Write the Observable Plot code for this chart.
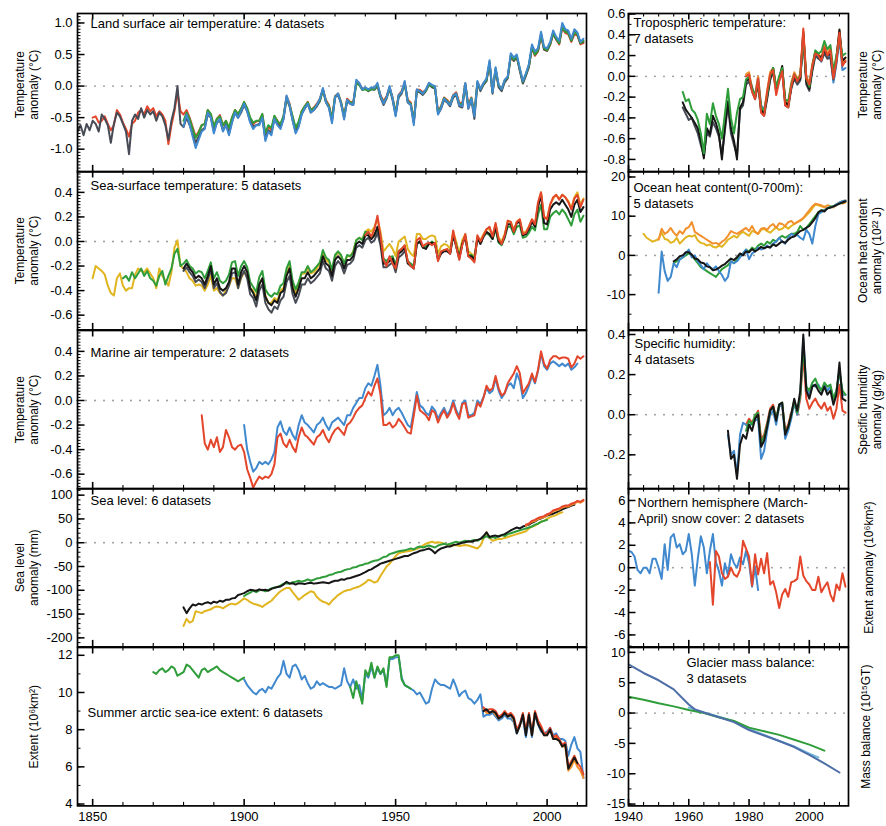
<!DOCTYPE html>
<html><head><meta charset="utf-8">
<script src="https://cdn.jsdelivr.net/npm/d3@7"></script>
<script src="https://cdn.jsdelivr.net/npm/@observablehq/plot@0.6"></script>
<style>
body{margin:0;background:#fff;}
#chart{position:relative;width:886px;height:826px;font-family:"Liberation Sans",Arial,sans-serif;}
#chart svg{position:absolute;overflow:visible;}
</style></head><body><div id="chart"></div>
<script>
// ---------- Land surface air temperature (°C) ----------
const landBlackStart = 1845;
const landBlack = [-0.72,-0.62,-0.78,-0.60,-0.70,
-0.55,-0.60,-0.72,-0.45,-0.52,-0.62,-0.90,-0.60,-0.42,-0.48,
-0.60,-0.72,-1.08,-0.55,-0.45,-0.52,-0.35,-0.50,-0.38,-0.45,
-0.40,-0.55,-0.42,-0.48,-0.62,-0.85,-0.55,-0.35,0.00,-0.60,
-0.65,-0.50,-0.62,-0.75,-0.90,-0.80,-0.70,-0.66,-0.45,-0.50,
-0.72,-0.58,-0.55,-0.70,-0.60,-0.75,-0.56,-0.42,-0.50,-0.42,
-0.30,-0.40,-0.56,-0.64,-0.62,-0.60,-0.50,-0.84,-0.70,-0.74,
-0.52,-0.60,-0.66,-0.52,-0.20,-0.32,-0.54,-0.72,-0.62,-0.44,
-0.36,-0.28,-0.42,-0.38,-0.32,-0.24,-0.06,-0.26,-0.34,-0.56,
-0.18,-0.14,-0.28,-0.50,-0.24,-0.28,-0.30,0.04,0.02,-0.06,
-0.04,-0.08,-0.05,-0.06,0.00,-0.18,-0.30,-0.20,-0.04,-0.22,
-0.46,-0.18,-0.12,0.04,-0.26,-0.30,-0.58,-0.08,-0.10,-0.14,
-0.08,0.02,-0.02,-0.04,-0.44,-0.36,-0.22,-0.26,-0.32,-0.18,
-0.14,-0.32,-0.34,0.02,-0.36,-0.22,-0.52,0.04,-0.08,0.02,
0.08,0.36,-0.12,0.26,-0.02,-0.08,0.06,0.12,0.48,0.40,
0.46,0.24,0.04,0.16,0.30,0.62,0.50,0.56,0.82,0.58,
0.56,0.66,0.84,0.74,0.68,0.96,0.86,0.86,0.72,0.86,
0.82,0.68,0.70];
const landRedStart = 1850;
const landRed = [-0.50,-0.48,-0.58,-0.55,-0.48,-0.60,-0.70,-0.62,-0.38,-0.45,
-0.58,-0.68,-0.80,-0.60,-0.55,-0.42,-0.38,-0.45,-0.32,-0.40,
-0.35,-0.48,-0.40,-0.45,-0.55,-0.92,-0.62,-0.40,-0.10,-0.40,
-0.45,-0.38,-0.50,-0.65,-0.80,-0.72,-0.62,-0.60,-0.38,-0.45,
-0.65,-0.52,-0.46,-0.62,-0.55,-0.68,-0.50,-0.38,-0.45,-0.36,
-0.26,-0.36,-0.52,-0.60,-0.56,-0.55,-0.45,-0.78,-0.64,-0.70,
-0.48,-0.55,-0.62,-0.48,-0.16,-0.28,-0.50,-0.68,-0.58,-0.40,
-0.32,-0.25,-0.38,-0.34,-0.28,-0.20,-0.05,-0.22,-0.30,-0.52,
-0.16,-0.12,-0.25,-0.48,-0.20,-0.25,-0.26,0.06,0.04,-0.04,
-0.04,-0.06,-0.04,-0.04,0.02,-0.14,-0.24,-0.16,-0.02,-0.18,
-0.42,-0.14,-0.08,0.06,-0.22,-0.26,-0.55,-0.06,-0.06,-0.10,
-0.06,0.04,0.00,-0.02,-0.40,-0.32,-0.18,-0.22,-0.28,-0.14,
-0.10,-0.26,-0.28,0.04,-0.30,-0.18,-0.42,0.06,-0.04,0.04,
0.10,0.36,-0.08,0.26,0.00,-0.04,0.08,0.14,0.46,0.40,
0.46,0.26,0.06,0.18,0.32,0.60,0.48,0.55,0.80,0.58,
0.56,0.65,0.82,0.74,0.66,0.92,0.84,0.82,0.70,0.82,
0.80,0.66,0.68];
const landGreenStart = 1880;
const landGreen = [-0.55,-0.42,-0.52,-0.68,-0.82,-0.74,-0.62,-0.60,-0.38,-0.44,
-0.64,-0.52,-0.48,-0.62,-0.55,-0.66,-0.50,-0.38,-0.44,-0.36,
-0.25,-0.35,-0.50,-0.58,-0.55,-0.55,-0.44,-0.74,-0.62,-0.66,
-0.47,-0.56,-0.60,-0.47,-0.18,-0.30,-0.48,-0.66,-0.56,-0.40,
-0.32,-0.26,-0.38,-0.35,-0.30,-0.22,-0.06,-0.24,-0.32,-0.52,
-0.17,-0.12,-0.26,-0.48,-0.22,-0.26,-0.28,0.04,0.02,-0.06,
-0.05,-0.07,-0.05,-0.05,0.02,-0.16,-0.26,-0.18,-0.03,-0.19,
-0.44,-0.15,-0.10,0.05,-0.24,-0.28,-0.56,-0.07,-0.08,-0.12,
-0.07,0.03,0.00,-0.02,-0.42,-0.33,-0.19,-0.24,-0.28,-0.15,
-0.12,-0.28,-0.30,0.03,-0.32,-0.19,-0.44,0.06,-0.05,0.04,
0.10,0.38,-0.09,0.28,0.01,-0.05,0.09,0.14,0.48,0.42,
0.47,0.27,0.07,0.19,0.33,0.62,0.50,0.57,0.82,0.60,
0.57,0.67,0.84,0.75,0.68,0.94,0.86,0.84,0.72,0.85,
0.82,0.68,0.72];
const landBlueStart = 1880;
const landBlue = [-0.64,-0.45,-0.60,-0.80,-0.98,-0.85,-0.72,-0.68,-0.42,-0.50,
-0.75,-0.58,-0.52,-0.72,-0.62,-0.78,-0.58,-0.42,-0.50,-0.40,
-0.28,-0.40,-0.58,-0.68,-0.62,-0.62,-0.50,-0.87,-0.72,-0.78,
-0.52,-0.62,-0.68,-0.52,-0.15,-0.30,-0.55,-0.75,-0.65,-0.45,
-0.35,-0.28,-0.42,-0.38,-0.30,-0.20,-0.03,-0.25,-0.35,-0.59,
-0.18,-0.12,-0.28,-0.53,-0.22,-0.28,-0.30,0.10,0.05,-0.05,
-0.02,-0.05,-0.02,-0.03,0.05,-0.15,-0.28,-0.18,0.00,-0.20,
-0.48,-0.15,-0.10,0.08,-0.25,-0.30,-0.62,-0.05,-0.08,-0.12,
-0.05,0.05,0.02,0.00,-0.45,-0.35,-0.20,-0.25,-0.30,-0.15,
-0.12,-0.30,-0.32,0.05,-0.35,-0.20,-0.48,0.08,-0.05,0.05,
0.12,0.41,-0.10,0.30,0.02,-0.05,0.10,0.15,0.52,0.45,
0.50,0.28,0.08,0.20,0.35,0.66,0.55,0.60,0.86,0.62,
0.60,0.70,0.88,0.78,0.72,1.00,0.90,0.88,0.75,0.90,
0.85,0.70,0.75];

// ---------- Sea-surface temperature (°C) ----------
const sstYellowStart = 1850;
const sstYellow = [-0.30,-0.20,-0.22,-0.24,-0.27,-0.36,-0.42,-0.44,-0.30,-0.26,
-0.36,-0.40,-0.38,-0.38,-0.27,-0.22,-0.24,-0.25,-0.22,-0.26,
-0.30,-0.38,-0.22,-0.28,-0.32,-0.36,-0.25,-0.05,0.01,-0.20,
-0.22,-0.25,-0.30,-0.32,-0.36,-0.35,-0.36,-0.40,-0.35,-0.28,
-0.40,-0.38,-0.42,-0.44,-0.40,-0.36,-0.30,-0.30,-0.38,-0.30,
-0.25,-0.28,-0.38,-0.40,-0.46,-0.35,-0.30,-0.44,-0.50,-0.50,
-0.46,-0.48,-0.40,-0.38,-0.26,-0.20,-0.35,-0.42,-0.34,-0.26,
-0.26,-0.22,-0.26,-0.25,-0.22,-0.18,-0.10,-0.15,-0.17,-0.24,
-0.12,-0.09,-0.12,-0.18,-0.12,-0.12,-0.08,0.01,0.03,0.02,
0.08,0.10,0.08,0.12,0.18,0.08,-0.08,-0.05,-0.02,-0.06,
-0.12,0.00,0.02,0.04,-0.06,-0.10,-0.12,0.06,0.06,0.02,
0.02,0.04,0.05,0.04,-0.10,-0.04,-0.02,-0.03,-0.06,0.08,
0.00,-0.10,0.01,0.06,-0.08,-0.10,-0.12,0.04,0.01,0.06,
0.10,0.10,0.05,0.14,0.03,0.00,0.06,0.16,0.16,0.09,
0.16,0.18,0.07,0.08,0.12,0.18,0.14,0.30,0.40,0.20,
0.19,0.30,0.35,0.38,0.35,0.38,0.36,0.33,0.27,0.36,
0.40,0.30,0.35];
const sstGreenStart = 1860;
const sstGreen = [-0.30,-0.28,-0.32,-0.25,-0.30,-0.26,-0.22,-0.28,-0.24,-0.30,
-0.32,-0.36,-0.28,-0.24,-0.35,-0.28,-0.22,-0.10,-0.06,-0.20,
-0.18,-0.15,-0.20,-0.22,-0.26,-0.24,-0.25,-0.30,-0.24,-0.17,
-0.30,-0.25,-0.32,-0.34,-0.32,-0.27,-0.17,-0.16,-0.28,-0.20,
-0.16,-0.21,-0.33,-0.37,-0.41,-0.29,-0.24,-0.39,-0.43,-0.45,
-0.42,-0.43,-0.36,-0.34,-0.22,-0.16,-0.32,-0.39,-0.33,-0.25,
-0.25,-0.20,-0.25,-0.23,-0.20,-0.17,-0.07,-0.13,-0.15,-0.23,
-0.11,-0.08,-0.11,-0.18,-0.11,-0.12,-0.09,0.01,0.03,0.01,
0.08,0.07,0.03,0.06,0.10,0.00,-0.14,-0.16,-0.13,-0.12,
-0.19,-0.08,-0.06,-0.04,-0.16,-0.18,-0.20,-0.02,0.00,-0.05,
-0.04,-0.02,0.00,-0.02,-0.14,-0.09,-0.07,-0.07,-0.09,0.05,
-0.03,-0.13,-0.02,0.04,-0.11,-0.11,-0.14,0.03,-0.01,0.04,
0.07,0.05,0.02,0.10,-0.01,-0.03,0.03,0.12,0.12,0.06,
0.12,0.13,0.03,0.04,0.07,0.12,0.09,0.22,0.30,0.10,
0.10,0.20,0.23,0.25,0.22,0.26,0.23,0.18,0.13,0.22,
0.26,0.16,0.21];
const sstGrayStart = 1880;
const sstGray = [-0.24,-0.21,-0.25,-0.28,-0.33,-0.31,-0.33,-0.38,-0.31,-0.23,
-0.38,-0.34,-0.41,-0.44,-0.42,-0.36,-0.26,-0.25,-0.38,-0.29,
-0.24,-0.30,-0.43,-0.46,-0.53,-0.40,-0.35,-0.50,-0.55,-0.58,
-0.53,-0.55,-0.48,-0.45,-0.33,-0.28,-0.43,-0.50,-0.44,-0.35,
-0.35,-0.30,-0.34,-0.32,-0.29,-0.26,-0.16,-0.22,-0.24,-0.32,
-0.20,-0.16,-0.19,-0.26,-0.19,-0.18,-0.15,-0.05,-0.03,-0.05,
0.01,0.03,-0.01,0.01,0.07,-0.03,-0.21,-0.21,-0.19,-0.17,
-0.25,-0.13,-0.11,-0.08];
const sstBlackStart = 1880;
const sstBlack = [-0.22,-0.18,-0.22,-0.25,-0.30,-0.28,-0.30,-0.35,-0.28,-0.20,
-0.35,-0.30,-0.38,-0.40,-0.38,-0.33,-0.22,-0.22,-0.35,-0.25,
-0.20,-0.25,-0.38,-0.42,-0.48,-0.35,-0.30,-0.45,-0.50,-0.52,
-0.48,-0.50,-0.42,-0.40,-0.28,-0.22,-0.38,-0.45,-0.38,-0.30,
-0.30,-0.25,-0.30,-0.28,-0.25,-0.22,-0.12,-0.18,-0.20,-0.28,
-0.15,-0.12,-0.15,-0.22,-0.15,-0.15,-0.12,-0.02,0.00,-0.02,
0.05,0.05,0.02,0.05,0.12,0.02,-0.18,-0.18,-0.16,-0.14,
-0.22,-0.10,-0.08,-0.05,-0.18,-0.20,-0.22,-0.02,0.00,-0.05,
-0.06,-0.02,-0.01,-0.02,-0.15,-0.10,-0.08,-0.08,-0.10,0.05,
-0.04,-0.14,-0.02,0.04,-0.12,-0.12,-0.15,0.03,-0.02,0.04,
0.08,0.06,0.02,0.12,0.00,-0.02,0.04,0.14,0.14,0.08,
0.15,0.16,0.05,0.06,0.10,0.16,0.12,0.28,0.38,0.15,
0.14,0.26,0.30,0.32,0.30,0.34,0.30,0.26,0.20,0.30,
0.34,0.24,0.28];
const sstRedStart = 1940;
const sstRed = [0.05,0.08,0.04,0.10,0.21,0.05,-0.15,-0.20,-0.12,-0.18,
-0.22,-0.08,-0.06,-0.03,-0.16,-0.20,-0.22,0.01,0.03,-0.04,
-0.02,-0.01,-0.03,-0.01,-0.16,-0.08,-0.07,-0.06,-0.10,0.09,
-0.04,-0.15,-0.03,0.06,-0.12,-0.14,-0.17,0.05,0.00,0.05,
0.10,0.12,0.04,0.15,0.02,-0.02,0.05,0.17,0.16,0.08,
0.16,0.18,0.06,0.07,0.12,0.18,0.14,0.32,0.40,0.20,
0.18,0.30,0.36,0.38,0.34,0.38,0.36,0.32,0.26,0.35,
0.38,0.28,0.34];

// ---------- Marine air temperature (°C) ----------
const marineRedStart = 1886;
const marineRed = [-0.12,-0.35,-0.40,-0.32,
-0.38,-0.30,-0.42,-0.38,-0.24,-0.30,-0.38,-0.40,-0.37,-0.36,
-0.42,-0.56,-0.63,-0.71,-0.66,-0.62,-0.64,-0.62,-0.63,-0.60,
-0.52,-0.30,-0.27,-0.35,-0.38,-0.32,-0.38,-0.42,-0.30,-0.22,
-0.28,-0.30,-0.33,-0.36,-0.30,-0.28,-0.24,-0.30,-0.34,-0.28,
-0.24,-0.22,-0.25,-0.28,-0.20,-0.18,-0.14,-0.09,-0.06,-0.04,
0.02,0.07,0.04,0.12,0.18,0.05,-0.20,-0.20,-0.18,-0.22,
-0.20,-0.15,-0.18,-0.22,-0.26,-0.27,-0.12,0.04,-0.08,-0.10,
-0.12,-0.16,-0.08,-0.10,-0.18,-0.12,-0.08,-0.14,-0.10,-0.02,
-0.10,-0.15,-0.03,-0.02,-0.14,-0.13,-0.12,-0.02,-0.05,0.02,
0.12,0.08,0.10,0.20,0.10,0.04,0.06,0.14,0.18,0.22,
0.28,0.22,0.06,0.10,0.14,0.22,0.15,0.25,0.40,0.30,
0.26,0.33,0.36,0.36,0.34,0.35,0.35,0.34,0.27,0.30,
0.36,0.34,0.36];
const marineBlueStart = 1900;
const marineBlue = [-0.20,-0.40,-0.50,-0.58,-0.55,-0.50,-0.52,-0.50,-0.52,-0.48,
-0.42,-0.22,-0.17,-0.25,-0.28,-0.22,-0.28,-0.32,-0.20,-0.12,
-0.18,-0.20,-0.23,-0.26,-0.20,-0.18,-0.14,-0.20,-0.24,-0.18,
-0.16,-0.14,-0.17,-0.20,-0.12,-0.12,-0.06,-0.02,0.02,0.02,
0.10,0.14,0.12,0.20,0.29,0.12,-0.12,-0.10,-0.06,-0.12,
-0.08,-0.06,-0.10,-0.15,-0.20,-0.22,-0.08,0.07,-0.04,-0.06,
-0.10,-0.12,-0.05,-0.08,-0.15,-0.10,-0.06,-0.12,-0.08,0.00,
-0.08,-0.13,-0.02,0.00,-0.12,-0.12,-0.10,0.00,-0.03,0.03,
0.10,0.06,0.08,0.18,0.08,0.02,0.06,0.12,0.14,0.10,
0.22,0.16,0.02,0.06,0.12,0.20,0.14,0.24,0.38,0.28,
0.25,0.30,0.32,0.30,0.28,0.30,0.28,0.30,0.25,0.27,0.30];

// ---------- Sea level (mm) ----------
const slBlackStart = 1880;
const slBlack = [-136,-148,-138,-130,-132,-128,-130,-127,-125,-128,
-124,-126,-122,-124,-120,-120,-117,-116,-110,-108,
-106,-102,-99,-100,-101,-98,-100,-99,-101,-97,
-95,-93,-92,-88,-82,-86,-85,-88,-85,-86,
-87,-85,-84,-86,-85,-84,-83,-84,-85,-82,
-80,-80,-77,-78,-75,-74,-72,-70,-68,-65,
-62,-58,-56,-52,-48,-44,-42,-40,-38,-36,
-34,-32,-30,-28,-28,-25,-22,-20,-17,-16,
-14,-12,-16,-22,-16,-12,-10,-8,-8,-5,
-4,-2,0,1,3,2,4,6,8,14,
22,12,14,15,13,16,18,22,26,29,
32,30,34,36,38,42,45,49,51,54,
57,59,61,64,67,70,73,75,78,80];
const slYellowStart = 1880;
const slYellow = [-175,-160,-168,-165,-144,-146,-148,-144,-142,-140,
-136,-134,-135,-138,-134,-130,-128,-130,-127,-122,
-117,-120,-125,-128,-130,-132,-135,-130,-126,-122,
-115,-108,-102,-98,-95,-95,-104,-112,-120,-115,
-110,-106,-102,-104,-114,-120,-124,-126,-130,-122,
-116,-110,-106,-102,-100,-99,-96,-94,-92,-88,
-84,-78,-80,-84,-81,-70,-60,-50,-44,-36,
-28,-22,-20,-19,-18,-17,-15,-13,-10,-6,
-2,0,2,0,1,0,-2,-4,-5,-6,
-5,-7,-6,-5,-6,-8,-10,-12,-6,8,
22,10,4,6,8,8,10,12,14,16,
18,20,22,24,30,34,36,40,44,46,
50,54,56,58,62,64];
const slGreenStart = 1900;
const slGreen = [-112,-108,-105,-101,-104,-100,-99,-102,-99,-96,
-94,-93,-90,-86,-85,-86,-83,-82,-80,-82,
-80,-77,-80,-78,-75,-74,-72,-71,-68,-67,
-64,-62,-61,-58,-56,-55,-52,-51,-48,-47,
-44,-43,-40,-38,-37,-34,-30,-29,-24,-22,
-20,-18,-17,-16,-14,-12,-14,-10,-8,-10,
-8,-6,-8,-10,-6,-4,-2,-4,-2,0,
2,0,2,4,2,4,6,4,8,10,
14,10,12,10,14,16,14,18,20,22,
24,26,28,30,32,34,38,40,44,46,
48];
const slOrangeStart = 1993;
const slOrange = [36,40,44,46,50,52,54,58,62,66,68,70,74,76,76,80,82,86,84,88];
const slRedStart = 1993;
const slRed = [38,40,46,48,52,54,56,60,62,68,70,72,76,78,78,82,84,88,86,90];

// ---------- Summer arctic sea-ice extent (10^6 km²) ----------
const iceGreenStart = 1870;
const iceGreen = [11.1,11.0,11.2,11.3,11.1,11.2,11.4,11.3,10.9,11.0,
11.1,11.5,11.4,11.2,11.0,10.8,11.2,11.3,11.1,11.2,
11.3,11.4,11.2,11.1,11.0,10.9,10.8,10.7,10.6,10.7,
10.8];
const iceGreen2Start = 1935;
const iceGreen2 = [10.3,9.7,10.6,10.0,9.4,11.2,10.9,11.6,10.8,11.4,
11.0,11.3,10.3,11.9,11.9,12.0,12.0,10.7,10.4,10.3,10.2];
const iceBlueStart = 1900;
const iceBlue = [10.7,10.4,10.2,10.0,9.9,10.1,10.2,10.0,10.3,10.2,
10.5,10.8,11.0,11.7,11.0,10.8,11.4,11.5,11.2,10.7,
10.9,10.5,10.2,10.3,10.6,10.4,10.5,10.4,10.3,10.3,
10.2,10.3,10.4,11.3,10.6,10.3,10.7,10.2,10.4,9.6,
11.0,10.8,11.4,10.8,11.3,11.0,11.2,10.4,11.8,11.8,
11.9,11.9,10.8,10.4,10.3,10.2,10.1,9.9,10.0,9.7,
9.4,9.5,10.2,10.7,10.5,10.4,10.4,10.3,10.2,10.7,
10.3,9.8,10.0,10.1,9.7,9.6,9.4,9.6,9.9,8.7,
8.8,8.8,8.9,8.7,8.5,8.6,8.8,8.6,8.6,8.4,
7.8,8.3,8.6,7.6,8.6,7.6,8.8,8.3,7.9,7.8,
7.9,8.1,7.7,7.8,7.5,7.5,7.4,6.6,7.2,7.6,
7.0,6.8,5.4];
const iceBlackStart = 1979;
const iceBlack = [9.0,
9.1,8.9,9.0,8.9,8.6,8.7,8.9,8.7,8.8,8.6,
7.8,8.2,8.8,7.7,8.8,7.7,8.9,8.3,8.0,7.7,
7.7,8.0,7.5,7.5,7.4,7.1,7.2,5.9,6.2,6.5,
6.2];
const iceRedStart = 1979;
const iceRed = [9.2,
9.0,9.1,9.1,9.0,8.7,8.8,9.0,8.8,8.9,8.7,
8.0,8.3,8.9,7.9,8.9,7.8,9.0,8.5,8.2,7.8,
7.8,8.1,7.6,7.7,7.5,7.2,7.3,6.0,6.3,6.6,
6.2,6.0,5.6];
const iceOrangeStart = 1979;
const iceOrange = [9.1,
8.9,8.9,9.0,8.8,8.6,8.7,8.9,8.7,8.8,8.5,
7.9,8.2,8.8,7.8,8.8,7.7,8.9,8.4,8.0,7.7,
7.7,8.0,7.5,7.6,7.4,7.1,7.1,5.8,6.0,6.4,
6.0,5.8,5.4];

// ---------- Tropospheric temperature (°C) ----------
const tropoStart = 1958;
const tropoBlack = [-0.25,-0.32,
-0.36,-0.40,-0.45,-0.50,-0.62,-0.79,-0.50,-0.56,-0.38,-0.45,
-0.55,-0.80,-0.48,-0.24,-0.50,-0.62,-0.80,-0.30,-0.25,-0.05,
-0.02,-0.12,-0.20,-0.05,-0.32,-0.36,-0.20,-0.02,0.08,-0.12,
-0.02,0.10,-0.25,-0.28,-0.10,0.00,-0.05,-0.02,0.42,-0.05,
-0.12,0.08,0.24,0.20,0.18,0.25,0.20,0.22,0.00,0.18,
0.45,0.15,0.18];
const tropoGray = [-0.30,-0.36,
-0.42,-0.40,-0.48,-0.55,-0.66,-0.76,-0.54,-0.58,-0.44,-0.50,
-0.58,-0.76,-0.52,-0.28,-0.55,-0.66,-0.76,-0.32,-0.28,-0.08,
-0.05,-0.14,-0.22,-0.08,-0.34,-0.38,-0.22,-0.04,0.05,-0.14,
-0.04,0.06,-0.28,-0.30,-0.12,-0.02,-0.08,-0.04,0.38,-0.08,
-0.14,0.05,0.20,0.17,0.15,0.22,0.17,0.18,-0.03,0.14,
0.40,0.12,0.14];
const tropoGreen = [-0.15,-0.24,
-0.22,-0.32,-0.35,-0.42,-0.55,-0.74,-0.36,-0.46,-0.26,-0.38,
-0.46,-0.60,-0.36,-0.12,-0.40,-0.55,-0.35,-0.22,-0.20,-0.03,
0.00,-0.12,-0.18,-0.05,-0.30,-0.33,-0.18,0.00,0.08,-0.10,
0.00,0.08,-0.22,-0.24,-0.08,0.02,-0.03,0.00,0.38,-0.02,
-0.10,0.10,0.25,0.22,0.24,0.34,0.26,0.30,0.05,0.20,
0.38,0.20,0.22];
const tropoSatStart = 1979;
const tropoRed = [0.00,
0.02,-0.15,-0.22,-0.02,-0.35,-0.38,-0.15,0.02,0.06,-0.18,
-0.05,0.05,-0.28,-0.30,-0.10,0.02,-0.05,0.00,0.46,-0.02,
-0.08,0.10,0.22,0.20,0.15,0.28,0.20,0.25,-0.02,0.15,
0.42,0.10,0.15];
const tropoBlue = [-0.05,
0.00,-0.10,-0.20,0.00,-0.28,-0.32,-0.18,0.00,0.04,-0.14,
-0.02,0.06,-0.24,-0.26,-0.12,0.00,-0.06,-0.02,0.40,-0.04,
-0.10,0.06,0.20,0.18,0.14,0.24,0.18,0.20,-0.06,0.12,
0.36,0.06,0.08];
const tropoOrange = [0.02,
0.04,-0.12,-0.18,0.00,-0.30,-0.34,-0.14,0.04,0.08,-0.14,
-0.02,0.08,-0.24,-0.26,-0.06,0.04,-0.02,0.02,0.44,0.00,
-0.06,0.12,0.24,0.22,0.18,0.30,0.22,0.27,0.00,0.17,
0.44,0.12,0.18];

// ---------- Ocean heat content 0-700 m (10^22 J) ----------
const ohcYellowStart = 1945;
const ohcYellow = [5.5,4.5,4.0,3.5,3.8,
4.2,5.8,4.2,4.0,3.2,3.5,4.5,3.0,3.8,4.6,
5.0,4.8,5.2,3.8,3.2,3.0,2.5,2.8,2.2,2.0,
2.5,2.2,3.0,4.0,4.5,5.0,4.5,5.5,6.0,5.5,
5.0,6.2,6.0,5.5,6.5,6.8,6.2,5.8,6.5,7.2,
6.5,6.8,7.5,6.8,7.5,8.0,8.5,8.8,9.5,10.2,
11.0,12.0,13.0,12.8,12.5,12.5,12.0,12.2,12.5,13.0,
13.5,13.8,14.0];
const ohcRedStart = 1950;
const ohcRed = [4.0,6.8,5.5,6.0,7.0,5.8,5.0,6.2,5.5,6.8,
7.2,8.5,6.0,5.5,5.0,4.5,4.0,3.5,3.0,3.2,
2.8,3.5,4.0,5.0,6.2,5.8,5.5,6.0,6.5,7.0,
6.2,7.5,6.0,5.5,6.8,7.0,6.5,7.5,8.0,7.0,
8.2,8.0,7.5,8.5,8.8,8.0,8.5,9.0,9.5,10.5,
11.5,12.5,13.2,13.0,12.8,12.2,12.8,12.5,12.2,13.0,
13.5,13.2,13.5];
const ohcBlueStart = 1950;
const ohcBlue = [-9.5,1.0,-4.0,-6.5,-5.5,-2.0,-3.0,-1.0,-0.5,0.5,
1.5,-0.5,0.0,-1.5,-2.5,-3.5,-2.0,-3.0,-3.5,-2.8,
-4.0,-5.0,-6.5,-5.5,-1.5,-2.0,-1.5,-0.5,0.5,1.5,
-1.0,0.5,1.0,2.0,1.5,1.8,2.5,2.0,3.0,3.5,
4.5,3.5,3.0,4.5,5.5,5.0,5.2,4.5,4.0,6.5,
5.5,3.0,7.5,10.5,11.0,11.5,12.0,12.2,12.5,13.0,
13.5,13.8,14.0];
const ohcBlackStart = 1955;
const ohcBlack = [-1.5,-1.0,-0.2,0.0,0.8,
0.8,0.2,-0.8,-1.0,-1.8,-2.0,-2.8,-3.0,-3.8,-3.6,
-3.2,-2.6,-2.2,-1.5,-0.8,-1.2,-0.5,0.5,0.0,1.0,
0.8,1.6,1.0,1.5,2.2,1.8,2.2,2.0,2.8,2.4,
3.0,3.6,3.2,4.0,4.6,4.8,5.5,6.2,6.5,7.0,
7.5,8.5,9.5,11.0,11.5,11.2,12.0,12.2,12.5,12.8,
13.2,13.5,13.8];
const ohcGreenStart = 1955;
const ohcGreen = [-2.0,-1.5,-1.0,-0.5,0.0,
0.5,0.0,-1.0,-2.0,-3.0,-3.5,-4.0,-4.5,-5.0,-5.5,
-4.5,-3.5,-3.0,-2.5,-1.5,-2.0,-1.0,0.0,0.5,1.5,
1.0,2.0,1.5,2.5,3.0,2.5,3.5,3.0,4.0,3.5,
4.5,5.0,4.5,5.0,5.5,5.5,6.0,7.5,6.5,7.0,
8.0,9.0,10.0,11.0,11.5,11.5,12.0,12.5,12.5,13.0,
13.2,13.5,13.8];

// ---------- Specific humidity (g/kg) ----------
const humBlackStart = 1973;
const humBlack = [-0.08,-0.22,-0.20,-0.32,-0.15,-0.10,-0.12,
-0.05,-0.08,-0.02,0.00,-0.16,-0.13,-0.06,0.02,0.04,-0.03,
0.05,0.06,-0.10,-0.06,0.00,0.08,0.02,0.12,0.40,0.12,
0.08,0.14,0.15,0.12,0.10,0.14,0.10,0.12,0.05,0.10,
0.26,0.08,0.07];
const humBlueStart = 1973;
const humBlue = [-0.10,-0.20,-0.18,-0.30,-0.10,-0.04,-0.05,
-0.06,-0.04,-0.03,-0.02,-0.22,-0.18,-0.08,0.00,0.02,-0.05,
0.04,0.05,-0.12,-0.08,-0.02,0.06,0.00,0.10,0.38,0.14,
0.10,0.15,0.14,0.15,0.12,0.15,0.12,0.14,0.08,0.12,
0.22,0.10,0.10];
const humRedStart = 1979;
const humRed = [-0.05,
-0.02,-0.04,-0.01,0.02,-0.12,-0.10,-0.04,0.03,0.05,-0.02,
0.04,0.05,-0.08,-0.05,0.01,0.06,0.00,0.08,0.30,0.08,
0.03,0.06,0.08,0.05,0.03,0.06,0.02,0.04,-0.02,0.03,
0.15,0.02,0.01];
const humGreenStart = 1979;
const humGreen = [-0.08,
-0.03,-0.05,0.00,0.01,-0.14,-0.11,-0.05,0.02,0.04,-0.02,
0.05,0.06,-0.09,-0.06,0.00,0.07,0.01,0.10,0.34,0.14,
0.12,0.16,0.18,0.14,0.12,0.16,0.14,0.15,0.08,0.12,
0.22,0.12,0.10];

// ---------- NH March-April snow cover anomaly (10^6 km²) ----------
const snowBlueStart = 1940;
const snowBlue = [1.5,1.4,1.0,-0.2,-0.5,0.0,0.0,-0.5,0.8,0.8,
0.0,-1.0,2.1,-0.2,2.7,3.0,1.8,2.1,1.2,1.5,
3.0,1.2,-1.6,0.8,2.8,1.8,-0.5,1.5,3.0,0.5,
-0.3,-1.6,0.4,-0.7,1.2,0.4,0.0,0.9,0.3,1.5,
0.4,-1.7,0.1,-2.0];
const snowRedStart = 1967;
const snowRed = [0.5,-3.3,1.5,
1.0,-0.5,-1.0,-0.8,0.0,-0.6,-0.8,-0.2,2.4,1.7,
1.0,-1.6,1.2,-0.6,0.8,-0.5,1.3,-1.5,-1.2,-2.2,
-3.6,-2.4,-1.9,-2.6,-1.3,-1.2,-1.0,1.0,-0.7,-1.2,
-1.5,-2.0,-2.0,-0.8,-2.2,-1.7,-1.3,-2.4,-3.0,-1.5,
-2.0,-0.5,-1.7];

// ---------- Glacier mass balance (10^15 GT) ----------
const glacierBlueYears = [1940,1945,1950,1955,1958,1960,1962,1965,1970,1975,1980,1985,1990,1995,2000,2005,2010];
const glacierBlue = [8.0,6.6,5.4,3.9,2.4,1.4,0.6,0.1,-0.7,-1.5,-2.8,-3.7,-4.6,-5.6,-6.9,-8.3,-9.8];
const glacierGreenYears = [1940,1945,1950,1955,1960,1965,1970,1975,1980,1985,1990,1995,2000,2005];
const glacierGreen = [2.7,2.2,1.6,1.1,0.5,0.0,-0.7,-1.3,-2.4,-3.0,-3.6,-4.4,-5.2,-6.2];
const glacierLightYears = [1960,1965,1970,1975,1980,1985,1990,1995,2000,2003];
const glacierLight = [0.9,0.1,-0.6,-1.4,-2.6,-3.6,-4.6,-5.5,-6.7,-7.3];

// ---------- axis tick values ----------
const leftYears = [1850,1900,1950,2000];
const leftMinorYears = [1860,1870,1880,1890,1910,1920,1930,1940,1960,1970,1980,1990,2010];
const rightYears = [1940,1960,1980,2000];
const rightMinorYears = [1945,1950,1955,1965,1970,1975,1985,1990,1995,2005,2010];

// ---------- colours ----------
const C = {black:"#161616", gray:"#474b55", red:"#e4462b", blue:"#4089cf", green:"#2f9d3a",
  yellow:"#e1b520", orange:"#f2902d", light:"#72b8e2", navy:"#4d6ea6"};

const S = (start, vals) => vals.map((v, i) => ({year: start + i, value: v}));
const P = (years, vals) => vals.map((v, i) => ({year: years[i], value: v}));

const TOP = 13, BOTTOM = 805, PH = (BOTTOM - TOP) / 5;
const LEFT = {left: 0, width: 590, ml: 77, mr: 4, domain: [1845, 2013], major: leftYears, minor: leftMinorYears, tx: [-57, -43], single: -43, anchor: "left"};
const RIGHT = {left: 590, width: 296, ml: 38, mr: 38, domain: [1940, 2013], major: rightYears, minor: rightMinorYears, tx: [15, 29], single: 21, anchor: "right"};

const f1 = d => d.toFixed(1), f0 = d => d.toFixed(0);

const panels = [
  {col: LEFT, row: 0, y: [-1.36, 1.15], ticks: [-1, -0.5, 0, 0.5, 1], fmt: f1, minor: 0.05, pad: 5,
   title: ["Land surface air temperature: 4 datasets"], tdx: 13, tdy: 10, ytitle: ["Temperature", "anomaly (°C)"], ydy: -8,
   lines: [[S(landRedStart, landRed), C.red], [S(landBlackStart, landBlack), C.gray], [S(landGreenStart, landGreen), C.green], [S(landBlueStart, landBlue), C.blue]]},
  {col: LEFT, row: 1, y: [-0.72, 0.57], ticks: [-0.6, -0.4, -0.2, 0, 0.2, 0.4], fmt: f1, minor: 0.025, pad: 5,
   title: ["Sea-surface temperature: 5 datasets"], tdx: 13, tdy: 14, ytitle: ["Temperature", "anomaly (°C)"], ydy: 0,
   lines: [[S(sstYellowStart, sstYellow), C.yellow], [S(sstGreenStart, sstGreen), C.green], [S(sstGrayStart, sstGray), C.gray], [S(sstBlackStart, sstBlack), C.black], [S(sstRedStart, sstRed), C.red]]},
  {col: LEFT, row: 2, y: [-0.72, 0.57], ticks: [-0.6, -0.4, -0.2, 0, 0.2, 0.4], fmt: f1, minor: 0.025, pad: 5,
   title: ["Marine air temperature: 2 datasets"], tdx: 13, tdy: 22, ytitle: ["Temperature", "anomaly (°C)"], ydy: 0,
   lines: [[S(marineBlueStart, marineBlue), C.blue], [S(marineRedStart, marineRed), C.red]]},
  {col: LEFT, row: 3, y: [-219, 114], ticks: [-200, -150, -100, -50, 0, 50, 100], fmt: f0, minor: 10, pad: 5,
   title: ["Sea level: 6 datasets"], tdx: 13, tdy: 12, ytitle: ["Sea level", "anomaly (mm)"], ydy: 0,
   lines: [[S(slYellowStart, slYellow), C.yellow], [S(slGreenStart, slGreen), C.green], [S(slBlackStart, slBlack), C.black], [S(slOrangeStart, slOrange), C.orange], [S(slRedStart, slRed), C.red]]},
  {col: LEFT, row: 4, y: [3.9, 12.42], ticks: [4, 6, 8, 10, 12], fmt: f0, minor: 1, pad: 5, nozero: true,
   title: ["Summer arctic sea-ice extent: 6 datasets"], tdx: 10, tdy: 65, ytitle: ["Extent (10⁶km²)"], ydy: 0,
   lines: [[S(iceBlueStart, iceBlue), C.blue], [S(iceGreenStart, iceGreen), C.green], [S(iceGreen2Start, iceGreen2), C.green], [S(iceOrangeStart, iceOrange), C.orange], [S(iceRedStart, iceRed), C.red], [S(iceBlackStart, iceBlack), C.black]]},
  {col: RIGHT, row: 0, y: [-0.92, 0.605], ticks: [-0.8, -0.6, -0.4, -0.2, 0, 0.2, 0.4, 0.6], fmt: f1, minor: 0.1, pad: 3,
   title: ["Tropospheric temperature:", "7 datasets"], tdx: 5, tdy: 9, ytitle: ["Temperature", "anomaly (°C)"], ydy: -8,
   lines: [[S(tropoSatStart, tropoBlue), C.blue], [S(tropoStart, tropoGray), C.gray], [S(tropoSatStart, tropoOrange), C.orange], [S(tropoStart, tropoBlack), C.black], [S(tropoStart, tropoGreen), C.green], [S(tropoSatStart, tropoRed), C.red]]},
  {col: RIGHT, row: 1, y: [-19, 21.4], ticks: [-10, 0, 10, 20], fmt: f0, minor: 5, pad: 3,
   title: ["Ocean heat content(0-700m):", "5 datasets"], tdx: 5, tdy: 16, ytitle: ["Ocean heat content", "anomaly (10²² J)"], ydy: 0,
   lines: [[S(ohcYellowStart, ohcYellow), C.yellow], [S(ohcRedStart, ohcRed), C.orange], [S(ohcGreenStart, ohcGreen), C.green], [S(ohcBlueStart, ohcBlue), C.blue], [S(ohcBlackStart, ohcBlack), C.black]]},
  {col: RIGHT, row: 2, y: [-0.37, 0.42], ticks: [-0.2, 0, 0.2, 0.4], fmt: f1, minor: 0.1, pad: 3,
   title: ["Specific humidity:", "4 datasets"], tdx: 6, tdy: 13, ytitle: ["Specific humidity", "anomaly (g/kg)"], ydy: 0,
   lines: [[S(humRedStart, humRed), C.red], [S(humBlueStart, humBlue), C.blue], [S(humGreenStart, humGreen), C.green], [S(humBlackStart, humBlack), C.black]]},
  {col: RIGHT, row: 3, y: [-7.07, 7.07], ticks: [-6, -4, -2, 0, 2, 4, 6], fmt: f0, minor: 1, pad: 3,
   title: ["Northern hemisphere (March-", "April) snow cover: 2 datasets"], tdx: 9, tdy: 14, ytitle: ["Extent anomaly (10⁶km²)"], ydy: 0,
   lines: [[S(snowBlueStart, snowBlue), C.blue], [S(snowRedStart, snowRed), C.red]]},
  {col: RIGHT, row: 4, y: [-15.3, 10.8], ticks: [-15, -10, -5, 0, 5, 10], fmt: f0, minor: 2.5, pad: 3,
   title: ["Glacier mass balance:", "3 datasets"], tdx: 58, tdy: 15, ytitle: ["Mass balance (10¹⁵GT)"], ydy: 0, single: 18,
   lines: [[P(glacierLightYears, glacierLight), C.light], [P(glacierGreenYears, glacierGreen), C.green], [P(glacierBlueYears, glacierBlue), C.navy]]}
];

const root = document.getElementById("chart");

for (const p of panels) {
  const col = p.col;
  const last = p.row === 4;
  const top = TOP + p.row * PH;
  const mt = 10, mb = last ? 30 : 10;
  const H = PH, W = col.width - col.ml - col.mr;
  const [lo, hi] = p.y;
  const minorY = d3.range(Math.ceil(lo / p.minor - 1e-9), Math.floor(hi / p.minor + 1e-9) + 1).map(i => +(i * p.minor).toFixed(4));
  const marks = [];
  if (!p.nozero) marks.push(Plot.ruleY([0], {stroke: "#8c8c8c", strokeWidth: 1.8, strokeDasharray: "0,9", strokeLinecap: "round"}));
  for (const [data, color] of p.lines) {
    marks.push(Plot.line(data, {x: "year", y: "value", stroke: color, strokeWidth: 2, strokeLinejoin: "round", clip: true}));
  }
  // x ticks (top and bottom edges, inward)
  marks.push(Plot.tickX(col.minor, {x: d => d, insetTop: H - 3.5, stroke: "#000", strokeWidth: 1.1}));
  marks.push(Plot.tickX(col.minor, {x: d => d, insetBottom: H - 3.5, stroke: "#000", strokeWidth: 1.1}));
  marks.push(Plot.tickX(col.major, {x: d => d, insetTop: H - 6.5, stroke: "#000", strokeWidth: 1.6}));
  marks.push(Plot.tickX(col.major, {x: d => d, insetBottom: H - 6.5, stroke: "#000", strokeWidth: 1.6}));
  // y ticks (left edge, inward)
  marks.push(Plot.tickY(minorY, {y: d => d, insetRight: W - 3.5, stroke: "#000", strokeWidth: 1}));
  marks.push(Plot.tickY(p.ticks, {y: d => d, insetRight: W - 7.5, stroke: "#000", strokeWidth: 1.5}));
  marks.push(Plot.frame({stroke: "#000", strokeWidth: 1.7}));
  // panel title
  p.title.forEach((t, i) => marks.push(Plot.text([t], {frameAnchor: "top-left", dx: p.tdx, dy: p.tdy + i * 16.5, text: d => d,
    textAnchor: "start", lineAnchor: "middle", fontSize: 13, fill: "#000"})));
  // y title (rotated)
  if (p.ytitle.length === 2) {
    p.ytitle.forEach((t, i) => marks.push(Plot.text([t], {frameAnchor: col.anchor, dx: col.tx[i], dy: p.ydy, rotate: -90, text: d => d,
      textAnchor: "middle", lineAnchor: "middle", fontSize: 12, fill: "#000"})));
  } else {
    marks.push(Plot.text(p.ytitle, {frameAnchor: col.anchor, dx: p.single ?? col.single, dy: p.ydy, rotate: -90, text: d => d,
      textAnchor: "middle", lineAnchor: "middle", fontSize: 12, fill: "#000"}));
  }
  const svg = Plot.plot({
    width: col.width, height: H + mt + mb,
    marginLeft: col.ml, marginRight: col.mr, marginTop: mt, marginBottom: mb,
    style: {background: "transparent", overflow: "visible", fontSize: "13px", fontFamily: "'Liberation Sans', Arial, sans-serif", color: "#000"},
    x: {domain: col.domain, axis: last ? "bottom" : null, ticks: col.major, tickSize: 0, tickPadding: 6, tickFormat: d => String(d), label: null},
    y: {domain: p.y, ticks: p.ticks, tickSize: 0, tickPadding: p.pad, tickFormat: p.fmt, label: null},
    marks
  });
  svg.style.position = "absolute";
  svg.style.left = col.left + "px";
  svg.style.top = (top - mt) + "px";
  root.appendChild(svg);
}
</script>
</body></html>
